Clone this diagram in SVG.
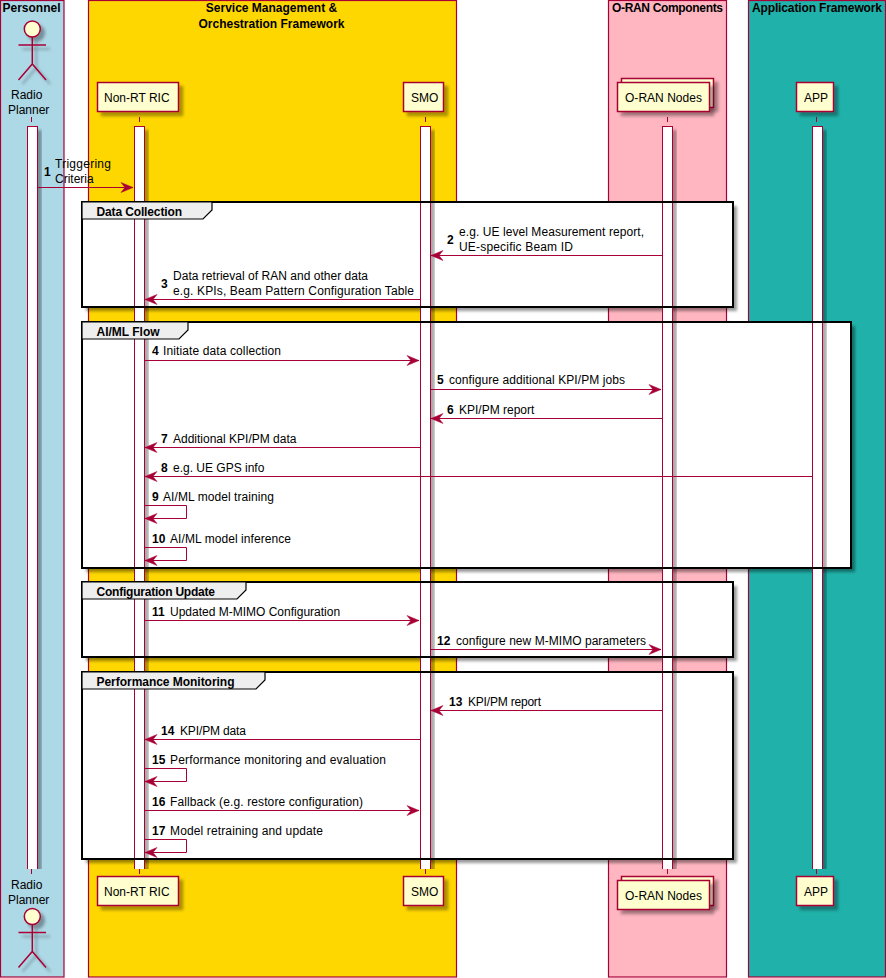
<svg xmlns="http://www.w3.org/2000/svg" width="886" height="978" viewBox="0 0 886 978">
<style>
text{font-family:"Liberation Sans",Arial,sans-serif;font-size:12px;fill:#000}
.b{font-weight:bold}
.c{text-anchor:middle}
.box{stroke:#a80036;stroke-width:1.2}
.p{fill:#fefece;stroke:#a80036;stroke-width:1.5;filter:url(#s)}
.act{fill:#fff;stroke:#a80036;stroke-width:1;filter:url(#s)}
.life{stroke:#a80036;stroke-width:1;stroke-dasharray:5,5;fill:none}
.fr{fill:#fff;filter:url(#f)}
.frb{fill:none;stroke:#000;stroke-width:2}
.tab{fill:#eee;stroke:#000;stroke-width:1.2}
.ln{fill:none;stroke:#a80036;stroke-width:1}
.ac{fill:none;stroke:#a80036;stroke-width:1.5}
.hd{fill:#fefece;stroke:#a80036;stroke-width:1.5}
.sh{filter:url(#s)}
</style>
<defs>
<filter id="s" x="-30%" y="-30%" width="170%" height="170%"><feDropShadow dx="4" dy="4" stdDeviation="1.5" flood-color="#000" flood-opacity="0.33"/></filter>
<filter id="f" x="-5%" y="-10%" width="110%" height="120%"><feDropShadow dx="4" dy="4" stdDeviation="1.5" flood-color="#000" flood-opacity="0.4"/></filter>
<clipPath id="barclip"><rect x="0" y="100" width="886" height="769"/></clipPath>
<path id="ar" d="M0 0L-12-5L-8 0L-12 5Z" fill="#a80036" stroke="#a80036" stroke-width="0.5"/>
<path id="al" d="M0 0L12-5L8 0L12 5Z" fill="#a80036" stroke="#a80036" stroke-width="0.5"/>
<g id="actor" class="sh"><circle class="hd" cx="32.3" cy="29" r="8"/><path class="ac" d="M32.3 37V64M18.5 45H46M18.5 80L32.3 64L46 80"/></g>
</defs>

<g id="box-personnel"><rect class="box" x="0.5" y="0.5" width="63.5" height="976.5" fill="#add8e6"/><text class="b c" x="31.5" y="12">Personnel</text></g>
<g id="box-smo-framework"><rect class="box" x="88.5" y="0.5" width="368" height="976.5" fill="#ffd700"/><text class="b c" x="271.5" y="12">Service Management &amp;</text><text class="b c" x="271.5" y="28">Orchestration Framework</text></g>
<g id="box-oran"><rect class="box" x="608.5" y="0.5" width="118" height="976.5" fill="#ffb6c1"/><text class="b" x="612" y="12" textLength="111">O-RAN Components</text></g>
<g id="box-app"><rect class="box" x="748.5" y="0.5" width="137" height="976.5" fill="#20b2aa"/><text class="b" x="752" y="12" textLength="130">Application Framework</text></g>

<g id="frame-backgrounds">
<rect class="fr" x="82" y="202" width="651" height="105"/>
<rect class="fr" x="82" y="322" width="769" height="246"/>
<rect class="fr" x="82" y="582" width="651" height="75"/>
<rect class="fr" x="82" y="672" width="651" height="187"/>
</g>

<g id="node-radio-planner">
<path class="life" d="M31.5 117V122M31.5 869V877"/>
<g clip-path="url(#barclip)"><rect class="act" x="27.5" y="126.5" width="10" height="752"/></g>
<use href="#actor"/><text x="11" y="99">Radio</text><text x="8" y="114">Planner</text>
<use href="#actor" y="887.5"/><text x="11" y="889">Radio</text><text x="8" y="904">Planner</text>
</g>
<g id="node-non-rt-ric">
<path class="life" d="M139.5 117V122M139.5 869V875"/>
<g clip-path="url(#barclip)"><rect class="act" x="134.5" y="126.5" width="10" height="752"/></g>
<rect class="p" x="97.5" y="82.5" width="81" height="29"/><text x="104" y="102">Non-RT RIC</text>
<rect class="p" x="97.5" y="876.5" width="81" height="29"/><text x="104" y="896">Non-RT RIC</text>
</g>
<g id="node-smo">
<path class="life" d="M425.5 117V122M425.5 869V875"/>
<g clip-path="url(#barclip)"><rect class="act" x="420.5" y="126.5" width="10" height="752"/></g>
<rect class="p" x="403.5" y="82.5" width="40" height="29"/><text x="411" y="102">SMO</text>
<rect class="p" x="403.5" y="876.5" width="40" height="29"/><text x="411" y="896">SMO</text>
</g>
<g id="node-oran-nodes">
<path class="life" d="M667.5 117V122M667.5 869V875"/>
<g clip-path="url(#barclip)"><rect class="act" x="662.5" y="126.5" width="10" height="752"/></g>
<rect class="p" x="621.5" y="78.5" width="92" height="29"/><rect class="p" x="617.5" y="82.5" width="92" height="29"/><text x="625" y="102" textLength="77">O-RAN Nodes</text>
<rect class="p" x="621.5" y="876.5" width="92" height="29"/><rect class="p" x="617.5" y="880.5" width="92" height="29"/><text x="625" y="900" textLength="77">O-RAN Nodes</text>
</g>
<g id="node-app">
<path class="life" d="M816.5 117V122M816.5 869V875"/>
<g clip-path="url(#barclip)"><rect class="act" x="812.5" y="126.5" width="10" height="752"/></g>
<rect class="p" x="796.5" y="82.5" width="37" height="29"/><text x="804" y="102">APP</text>
<rect class="p" x="796.5" y="876.5" width="37" height="29"/><text x="804" y="896">APP</text>
</g>

<g id="frame-data-collection"><rect class="frb" x="82" y="202" width="651" height="105"/><path class="tab" d="M82 202H212V210L203 219H82Z"/><text class="b" x="96.5" y="216" textLength="85.5">Data Collection</text></g>
<g id="frame-aiml-flow"><rect class="frb" x="82" y="322" width="769" height="246"/><path class="tab" d="M82 322H188V330L179 339H82Z"/><text class="b" x="96.5" y="336">AI/ML Flow</text></g>
<g id="frame-configuration-update"><rect class="frb" x="82" y="582" width="651" height="75"/><path class="tab" d="M82 582H246V590L237 599H82Z"/><text class="b" x="96.5" y="596" textLength="118.5">Configuration Update</text></g>
<g id="frame-performance-monitoring"><rect class="frb" x="82" y="672" width="651" height="187"/><path class="tab" d="M82 672H265V680L256 689H82Z"/><text class="b" x="96.5" y="686" textLength="138">Performance Monitoring</text></g>

<g id="connectors">
<path class="ln" d="M38 187.5H133"/><use href="#ar" x="133" y="187.5"/>
<path class="ln" d="M662 255.5H431"/><use href="#al" x="431" y="255.5"/>
<path class="ln" d="M420 299.5H145"/><use href="#al" x="145" y="299.5"/>
<path class="ln" d="M145 360.5H419"/><use href="#ar" x="419" y="360.5"/>
<path class="ln" d="M431 389.5H661"/><use href="#ar" x="661" y="389.5"/>
<path class="ln" d="M662 418.5H431"/><use href="#al" x="431" y="418.5"/>
<path class="ln" d="M420 447.5H145"/><use href="#al" x="145" y="447.5"/>
<path class="ln" d="M812 476.5H145"/><use href="#al" x="145" y="476.5"/>
<path class="ln" d="M145 505.5H186.5V518.5H145"/><use href="#al" x="145" y="518.5"/>
<path class="ln" d="M145 547.5H186.5V560.5H145"/><use href="#al" x="145" y="560.5"/>
<path class="ln" d="M145 620.5H419"/><use href="#ar" x="419" y="620.5"/>
<path class="ln" d="M431 649.5H661"/><use href="#ar" x="661" y="649.5"/>
<path class="ln" d="M662 710.5H431"/><use href="#al" x="431" y="710.5"/>
<path class="ln" d="M420 739.5H145"/><use href="#al" x="145" y="739.5"/>
<path class="ln" d="M145 768.5H186.5V781.5H145"/><use href="#al" x="145" y="781.5"/>
<path class="ln" d="M145 810.5H419"/><use href="#ar" x="419" y="810.5"/>
<path class="ln" d="M145 839.5H186.5V852.5H145"/><use href="#al" x="145" y="852.5"/>
</g>
<g id="connector-labels">
<text class="b" x="44" y="176">1</text><text x="55" y="168" textLength="56">Triggering</text><text x="55" y="183">Criteria</text>
<text class="b" x="447" y="244">2</text><text x="459" y="236" textLength="185">e.g. UE level Measurement report,</text><text x="459" y="251" textLength="114">UE-specific Beam ID</text>
<text class="b" x="161" y="288">3</text><text x="173" y="280" textLength="195">Data retrieval of RAN and other data</text><text x="173" y="295" textLength="241">e.g. KPIs, Beam Pattern Configuration Table</text>
<text class="b" x="152" y="355">4</text><text x="163" y="355" textLength="118">Initiate data collection</text>
<text class="b" x="437" y="384">5</text><text x="449" y="384" textLength="176">configure additional KPI/PM jobs</text>
<text class="b" x="447" y="414">6</text><text x="459" y="414">KPI/PM report</text>
<text class="b" x="161" y="443">7</text><text x="173" y="443">Additional KPI/PM data</text>
<text class="b" x="161" y="472">8</text><text x="173" y="472">e.g. UE GPS info</text>
<text class="b" x="152" y="501">9</text><text x="163" y="501" textLength="111">AI/ML model training</text>
<text class="b" x="152" y="543">10</text><text x="170" y="543" textLength="121">AI/ML model inference</text>
<text class="b" x="152" y="616">11</text><text x="170" y="616">Updated M-MIMO Configuration</text>
<text class="b" x="437" y="645">12</text><text x="456" y="645" textLength="190">configure new M-MIMO parameters</text>
<text class="b" x="449" y="706">13</text><text x="468" y="706" textLength="73">KPI/PM report</text>
<text class="b" x="161" y="735">14</text><text x="180" y="735" textLength="66">KPI/PM data</text>
<text class="b" x="152" y="764">15</text><text x="170" y="764" textLength="216">Performance monitoring and evaluation</text>
<text class="b" x="152" y="806">16</text><text x="170" y="806" textLength="193">Fallback (e.g. restore configuration)</text>
<text class="b" x="152" y="835">17</text><text x="170" y="835" textLength="153">Model retraining and update</text>
</g>
</svg>
